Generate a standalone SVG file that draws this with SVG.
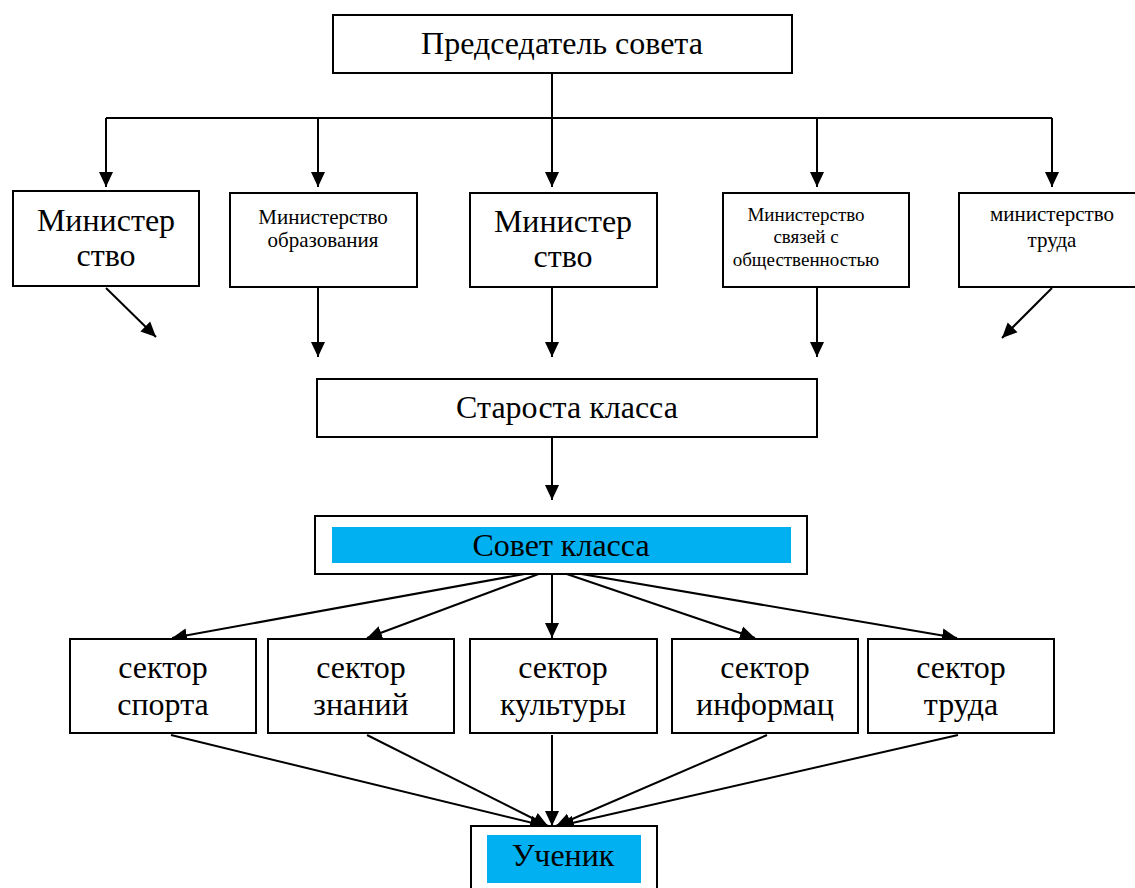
<svg xmlns="http://www.w3.org/2000/svg" width="1135" height="888" viewBox="0 0 1135 888">
<style>
.box{fill:#fff;stroke:#000;stroke-width:2}
.hl{fill:#00B0F0}
text{font-family:"Liberation Serif","Times New Roman",serif;fill:#000;text-anchor:middle}
.big{font-size:32px}
.sm{font-size:21px}
.xs{font-size:19px}
.c{fill:none;stroke:#000;stroke-width:2}
</style>
<defs>
<marker id="ah" markerUnits="userSpaceOnUse" markerWidth="16" markerHeight="16" viewBox="0 0 16 16" refX="15" refY="8" orient="auto">
<path d="M0,1 L15,8 L0,15 Z" fill="#000"/>
</marker>
</defs>
<rect width="1135" height="888" fill="#fff"/>
<g id="connectors">
<path class="c" d="M552,68 V118 M106,118 H1052"/>
<line class="c" x1="106" y1="118" x2="106" y2="187" marker-end="url(#ah)"/>
<line class="c" x1="318" y1="118" x2="318" y2="187" marker-end="url(#ah)"/>
<line class="c" x1="552" y1="118" x2="552" y2="187" marker-end="url(#ah)"/>
<line class="c" x1="817" y1="118" x2="817" y2="187" marker-end="url(#ah)"/>
<line class="c" x1="1052" y1="118" x2="1052" y2="187" marker-end="url(#ah)"/>
<line class="c" x1="106" y1="288" x2="156" y2="337" marker-end="url(#ah)"/>
<line class="c" x1="318" y1="288" x2="318" y2="357" marker-end="url(#ah)"/>
<line class="c" x1="552" y1="288" x2="552" y2="357" marker-end="url(#ah)"/>
<line class="c" x1="817" y1="288" x2="817" y2="357" marker-end="url(#ah)"/>
<line class="c" x1="1052" y1="288" x2="1002" y2="338" marker-end="url(#ah)"/>
<line class="c" x1="552" y1="432" x2="552" y2="500" marker-end="url(#ah)"/>
<line class="c" x1="552" y1="569" x2="172" y2="638" marker-end="url(#ah)"/>
<line class="c" x1="552" y1="569" x2="367" y2="638" marker-end="url(#ah)"/>
<line class="c" x1="552" y1="569" x2="552" y2="638" marker-end="url(#ah)"/>
<line class="c" x1="552" y1="569" x2="755" y2="638" marker-end="url(#ah)"/>
<line class="c" x1="552" y1="569" x2="957" y2="638" marker-end="url(#ah)"/>
<line class="c" x1="171" y1="735" x2="545" y2="826" marker-end="url(#ah)"/>
<line class="c" x1="367" y1="735" x2="548" y2="826" marker-end="url(#ah)"/>
<line class="c" x1="552" y1="735" x2="552" y2="826" marker-end="url(#ah)"/>
<line class="c" x1="767" y1="735" x2="556" y2="826" marker-end="url(#ah)"/>
<line class="c" x1="958" y1="735" x2="559" y2="826" marker-end="url(#ah)"/>
</g>
<g id="n-chair">
<rect class="box" x="333" y="15" width="459" height="58"/>
<text class="big" x="562" y="54">Председатель совета</text>
</g>
<g id="n-min1">
<rect class="box" x="13" y="191" width="186" height="95"/>
<text class="big" x="106" y="231">Министер</text>
<text class="big" x="106" y="266">ство</text>
</g>
<g id="n-min2">
<rect class="box" x="230" y="193" width="187" height="94"/>
<text class="sm" x="323" y="224">Министерство</text>
<text class="sm" x="323" y="247">образования</text>
</g>
<g id="n-min3">
<rect class="box" x="470" y="193" width="187" height="94"/>
<text class="big" x="563" y="232">Министер</text>
<text class="big" x="563" y="267">ство</text>
</g>
<g id="n-min4">
<rect class="box" x="723" y="193" width="186" height="94"/>
<text class="xs" x="806" y="221">Министерство</text>
<text class="xs" x="806" y="243">связей с</text>
<text class="xs" x="806" y="266">общественностью</text>
</g>
<g id="n-min5">
<rect class="box" x="959" y="193" width="190" height="94"/>
<text class="sm" x="1052" y="221">министерство</text>
<text class="sm" x="1052" y="247">труда</text>
</g>
<g id="n-starosta">
<rect class="box" x="317" y="379" width="500" height="58"/>
<text class="big" x="567" y="418">Староста класса</text>
</g>
<g id="n-sovet">
<rect class="box" x="315" y="516" width="492" height="58"/>
<rect class="hl" x="332" y="527" width="459" height="36"/>
<text class="big" x="561" y="556">Совет класса</text>
</g>
<g id="n-s1">
<rect class="box" x="70" y="639" width="186" height="94"/>
<text class="big" x="163" y="678">сектор</text>
<text class="big" x="163" y="715">спорта</text>
</g>
<g id="n-s2">
<rect class="box" x="268" y="639" width="186" height="94"/>
<text class="big" x="361" y="678">сектор</text>
<text class="big" x="361" y="715">знаний</text>
</g>
<g id="n-s3">
<rect class="box" x="470" y="639" width="187" height="94"/>
<text class="big" x="563" y="678">сектор</text>
<text class="big" x="563" y="715">культуры</text>
</g>
<g id="n-s4">
<rect class="box" x="672" y="639" width="186" height="94"/>
<text class="big" x="765" y="678">сектор</text>
<text class="big" x="765" y="715">информац</text>
</g>
<g id="n-s5">
<rect class="box" x="868" y="639" width="186" height="94"/>
<text class="big" x="961" y="678">сектор</text>
<text class="big" x="961" y="715">труда</text>
</g>
<g id="n-pupil">
<rect class="box" x="471" y="826" width="186" height="80"/>
<rect class="hl" x="487" y="835" width="154" height="48"/>
<text class="big" x="563" y="866">Ученик</text>
</g>
</svg>
